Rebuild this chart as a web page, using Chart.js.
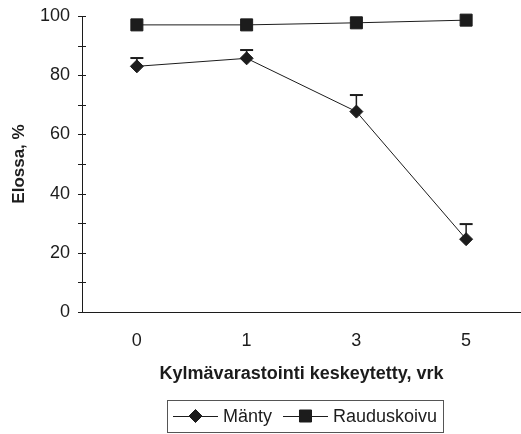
<!DOCTYPE html>
<html>
<head>
<meta charset="utf-8">
<script src="https://cdn.jsdelivr.net/npm/chart.js@4/dist/chart.umd.min.js"></script>
<style>
  html, body { margin: 0; padding: 0; background: #fff; }
  #wrap { width: 521px; height: 434px; }
</style>
</head>
<body>
<div id="wrap"><canvas id="c" width="521" height="434"></canvas></div>
<script>
// Days the cold storage was interrupted
const categories = ['0', '1', '3', '5'];
// Survival, %
const manty = [83, 85.7, 67.7, 24.6];
const mantyErr = [2.8, 2.8, 5.6, 5.1];
const rauduskoivu = [97, 97, 97.7, 98.6];
const yTicks = [0, 20, 40, 60, 80, 100];

const INK = '#1c1c1c';
const FONT = "'Liberation Sans', Arial, sans-serif";

// Upper error bars for the pine series
const errorBars = {
  id: 'errorBars',
  afterDatasetsDraw(chart) {
    const { ctx, scales: { x, y } } = chart;
    ctx.save();
    ctx.strokeStyle = INK;
    manty.forEach((v, i) => {
      const px = x.getPixelForValue(i);
      const py = y.getPixelForValue(v);
      const pt = y.getPixelForValue(v + mantyErr[i]);
      ctx.lineWidth = 1.5;
      ctx.beginPath();
      ctx.moveTo(px, py);
      ctx.lineTo(px, pt);
      ctx.stroke();
      ctx.lineWidth = 2;
      ctx.beginPath();
      ctx.moveTo(px - 6.5, pt);
      ctx.lineTo(px + 6.5, pt);
      ctx.stroke();
    });
    ctx.restore();
  }
};

// Major and minor tick marks crossing the value axis
const axisTicks = {
  id: 'axisTicks',
  afterDraw(chart) {
    const { ctx, scales: { y } } = chart;
    const ax = y.right;
    ctx.save();
    ctx.strokeStyle = INK;
    ctx.lineWidth = 1;
    for (let v = 0; v <= 100; v += 10) {
      const py = Math.round(y.getPixelForValue(v)) + 0.5;
      ctx.beginPath();
      ctx.moveTo(ax - 4, py);
      ctx.lineTo(ax + 4, py);
      ctx.stroke();
    }
    ctx.restore();
  }
};

// Boxed legend below the axis title
const boxLegend = {
  id: 'boxLegend',
  afterDraw(chart) {
    const { ctx } = chart;
    ctx.save();
    const bx = 167, by = 400, bw = 276, bh = 32;
    ctx.strokeStyle = '#555';
    ctx.lineWidth = 1;
    ctx.strokeRect(bx + 0.5, by + 0.5, bw, bh);
    const cy = by + 16;
    ctx.strokeStyle = INK;
    ctx.fillStyle = INK;
    ctx.font = '18px ' + FONT;
    ctx.textBaseline = 'middle';
    const items = chart.data.datasets.map(d => ({ label: d.label, style: d.pointStyle }));
    const starts = [173, 283];
    items.forEach((it, i) => {
      const x0 = starts[i], x1 = x0 + 45, mx = (x0 + x1) / 2;
      ctx.lineWidth = 1;
      ctx.beginPath();
      ctx.moveTo(x0, cy + 0.5);
      ctx.lineTo(x1, cy + 0.5);
      ctx.stroke();
      Chart.helpers.drawPoint(ctx, { pointStyle: it.style, radius: it.style === 'rect' ? 8.5 : 6.5, borderWidth: 1 }, mx, cy);
      ctx.fill();
      ctx.fillText(it.label, x1 + 5, cy + 1);
    });
    ctx.restore();
  }
};

new Chart(document.getElementById('c'), {
  type: 'line',
  data: {
    labels: categories,
    datasets: [
      {
        label: 'Mänty',
        data: manty,
        borderColor: INK,
        borderWidth: 1,
        pointStyle: 'rectRot',
        pointRadius: 6.5,
        pointBackgroundColor: INK,
        pointBorderColor: INK,
        pointBorderWidth: 1,
        tension: 0
      },
      {
        label: 'Rauduskoivu',
        data: rauduskoivu,
        borderColor: INK,
        borderWidth: 1,
        pointStyle: 'rect',
        pointRadius: 8.5,
        pointBackgroundColor: INK,
        pointBorderColor: INK,
        pointBorderWidth: 1,
        tension: 0
      }
    ]
  },
  options: {
    responsive: false,
    animation: false,
    devicePixelRatio: 1,
    clip: false,
    layout: { autoPadding: false, padding: { top: 16, right: 0, left: 0, bottom: 49 } },
    plugins: {
      legend: { display: false },
      tooltip: { enabled: false }
    },
    scales: {
      x: {
        type: 'category',
        offset: true,
        grid: { display: false, drawTicks: false },
        border: { display: true, color: INK, width: 1 },
        ticks: { color: INK, font: { family: FONT, size: 18 }, padding: 18 },
        title: {
          display: true,
          text: 'Kylmävarastointi keskeytetty, vrk',
          color: INK,
          font: { family: FONT, size: 18, weight: 'bold' },
          padding: { top: 0, bottom: 0 }
        },
        afterFit(s) {
          s.height = 73;
          s.paddingLeft = 0; s.paddingRight = 0;
        }
      },
      y: {
        min: 0,
        max: 100,
        grid: { display: false, drawTicks: false },
        border: { display: true, color: INK, width: 1 },
        afterBuildTicks(s) { s.ticks = yTicks.map(v => ({ value: v })); },
        ticks: { color: INK, font: { family: FONT, size: 18 }, padding: 12 },
        title: {
          display: true,
          text: 'Elossa, %',
          color: INK,
          font: { family: FONT, size: 17, weight: 'bold' },
          padding: { top: 9, bottom: 0 }
        },
        afterFit(s) {
          s.width = 82;
          s.paddingTop = 0; s.paddingBottom = 0;
        }
      }
    }
  },
  plugins: [errorBars, axisTicks, boxLegend]
});
</script>
</body>
</html>
